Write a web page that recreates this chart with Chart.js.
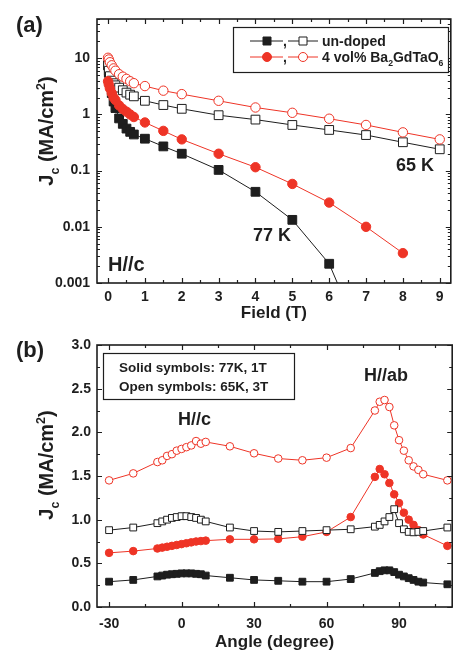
<!DOCTYPE html>
<html>
<head>
<meta charset="utf-8">
<script src="https://cdn.jsdelivr.net/npm/chart.js@4.4.1/dist/chart.umd.min.js"></script>
<style>
  html, body { margin: 0; padding: 0; background: #fff; }
  #wrap { position: relative; width: 458px; height: 658px; }
  #chartA { position: absolute; left: 0; top: 0; }
  #chartB { position: absolute; left: 0; top: 324px; }
</style>
</head>
<body>
<div id="wrap">
  <canvas id="chartA" width="458" height="324"></canvas>
  <canvas id="chartB" width="458" height="334"></canvas>
</div>
<script>
// ---- panel (a): Jc vs field ----
const field = [0, 0.02, 0.05, 0.1, 0.15, 0.2, 0.3, 0.4, 0.5, 0.6, 0.7, 1, 1.5, 2, 3, 4, 5, 6, 7, 8, 9];
const jcUndoped77 = [7.5, 5.5, 3.8, 2.4, 1.7, 1.3, 0.85, 0.68, 0.56, 0.49, 0.44, 0.37, 0.27, 0.20, 0.103, 0.042, 0.0133, 0.0022, null, null, null];
const jcUndoped65 = [7.5, 6.0, 4.8, 4.0, 3.6, 3.3, 3.0, 2.7, 2.45, 2.25, 2.1, 1.75, 1.47, 1.26, 0.97, 0.81, 0.65, 0.53, 0.43, 0.32, 0.24];
const jcDoped77 = [3.9, 3.4, 2.9, 2.4, 2.0, 1.8, 1.45, 1.25, 1.12, 1.0, 0.9, 0.72, 0.51, 0.36, 0.20, 0.115, 0.058, 0.027, 0.010, 0.0034, null];
const jcDoped65 = [10.2, 9.5, 8.5, 7.5, 6.6, 6.0, 5.2, 4.7, 4.3, 3.9, 3.6, 3.2, 2.65, 2.3, 1.75, 1.33, 1.07, 0.84, 0.65, 0.48, 0.36];
// line of the un-doped 77 K curve leaving the bottom of the plot
const tailField = [6, 6.3];
const tailJc = [0.0022, 0.00076];

const fieldTicks = [0, 1, 2, 3, 4, 5, 6, 7, 8, 9];
const fieldMinor = [0.5, 1.5, 2.5, 3.5, 4.5, 5.5, 6.5, 7.5, 8.5];
const jcTicksA = [0.001, 0.01, 0.1, 1, 10];

// ---- panel (b): Jc vs angle ----
const angle = [-30, -20, -10, -8, -6, -4, -2, 0, 2, 4, 6, 8, 10, 20, 30, 40, 50, 60, 70, 80, 82, 84, 86, 88, 90, 92, 94, 96, 98, 100, 110];
const angDoped65 = [1.45, 1.53, 1.66, 1.68, 1.73, 1.75, 1.79, 1.81, 1.83, 1.85, 1.90, 1.87, 1.89, 1.84, 1.76, 1.70, 1.68, 1.71, 1.82, 2.25, 2.35, 2.37, 2.29, 2.08, 1.91, 1.79, 1.68, 1.61, 1.57, 1.52, 1.45];
const angUndoped65 = [0.88, 0.91, 0.96, 0.98, 1.00, 1.02, 1.03, 1.04, 1.04, 1.03, 1.02, 1.00, 0.98, 0.91, 0.87, 0.86, 0.87, 0.88, 0.89, 0.92, 0.94, 0.98, 1.03, 1.12, 0.96, 0.89, 0.86, 0.855, 0.86, 0.87, 0.91];
const angDoped77 = [0.62, 0.64, 0.67, 0.68, 0.69, 0.70, 0.71, 0.72, 0.73, 0.74, 0.75, 0.755, 0.76, 0.775, 0.775, 0.78, 0.805, 0.86, 1.03, 1.49, 1.58, 1.52, 1.42, 1.29, 1.19, 1.08, 1.00, 0.94, 0.88, 0.83, 0.70];
const angUndoped77 = [0.29, 0.31, 0.35, 0.36, 0.37, 0.375, 0.38, 0.385, 0.385, 0.385, 0.38, 0.375, 0.36, 0.335, 0.31, 0.30, 0.29, 0.29, 0.32, 0.39, 0.41, 0.42, 0.42, 0.40, 0.37, 0.35, 0.33, 0.31, 0.29, 0.28, 0.26];

const angleTicks = [-30, 0, 30, 60, 90];
const angleMinor = [-15, 15, 45, 75, 105];
const jcTicksB = [0, 0.5, 1.0, 1.5, 2.0, 2.5, 3.0];
const jcMinorB = [0.25, 0.75, 1.25, 1.75, 2.25, 2.75];

const RED = '#ee3426';
const INK = '#1e1e1e';
const FONT = "'Liberation Sans', Arial, sans-serif";

function pairs(xs, ys) {
  return xs.map((x, i) => ({ x: x, y: ys[i] })).filter(p => p.y !== null);
}

function series(data, color, solid, style, r) {
  return {
    data: data,
    borderColor: color,
    backgroundColor: solid ? color : '#fff',
    borderWidth: 1,
    pointStyle: style,
    pointRadius: r,
    pointBorderWidth: 1,
    pointBackgroundColor: solid ? color : '#fff',
    pointBorderColor: color,
    tension: 0
  };
}

// draw text with sub/superscripts; parts = [[text, 0|-1|1], ...]
function rich(ctx, parts, x, y, size, align) {
  const fontOf = k => 'bold ' + (k ? size * 0.62 : size) + 'px ' + FONT;
  let w = 0;
  parts.forEach(p => { ctx.font = fontOf(p[1]); w += ctx.measureText(p[0]).width; });
  let cx = align === 'center' ? x - w / 2 : x;
  ctx.textBaseline = 'alphabetic';
  ctx.textAlign = 'left';
  parts.forEach(p => {
    ctx.font = fontOf(p[1]);
    const dy = p[1] === -1 ? size * 0.28 : (p[1] === 1 ? -size * 0.42 : 0);
    ctx.fillText(p[0], cx, y + dy);
    cx += ctx.measureText(p[0]).width;
  });
}

// closed frame with inward ticks on all four sides
function frameTicks(minorX, minorY) {
  return {
    id: 'frameTicks',
    afterDatasetsDraw(chart) {
      const { ctx, chartArea: a, scales } = chart;
      const x = scales.x, y = scales.y;
      ctx.save();
      ctx.strokeStyle = INK;
      ctx.lineWidth = 1.2;
      const vt = (vals, len) => vals.forEach(v => {
        const px = Math.round(x.getPixelForValue(v)) + 0.5;
        ctx.beginPath();
        ctx.moveTo(px, a.bottom); ctx.lineTo(px, a.bottom - len);
        ctx.moveTo(px, a.top); ctx.lineTo(px, a.top + len);
        ctx.stroke();
      });
      const ht = (vals, len) => vals.forEach(v => {
        const py = Math.round(y.getPixelForValue(v)) + 0.5;
        ctx.beginPath();
        ctx.moveTo(a.left, py); ctx.lineTo(a.left + len, py);
        ctx.moveTo(a.right, py); ctx.lineTo(a.right - len, py);
        ctx.stroke();
      });
      vt(x.ticks.map(t => t.value), 5);
      vt(minorX, 3);
      ht(y.ticks.map(t => t.value), 5);
      ht(minorY, 3);
      ctx.lineWidth = 1.6;
      ctx.strokeRect(a.left, a.top, a.right - a.left, a.bottom - a.top);
      ctx.restore();
    }
  };
}

// log minor ticks 2..9 per decade
const logMinor = [];
jcTicksA.forEach(d => { for (let k = 2; k <= 9; k++) { if (d * k <= 50) logMinor.push(d * k); } });

const tickFont = { family: FONT, size: 14, weight: 'bold' };

// ---------- chart (a) ----------
const notesA = {
  id: 'notesA',
  afterDraw(chart) {
    const ctx = chart.ctx;
    ctx.save();
    ctx.fillStyle = INK;
    // panel label
    ctx.font = 'bold 22px ' + FONT;
    ctx.textAlign = 'left'; ctx.textBaseline = 'alphabetic';
    ctx.fillText('(a)', 16, 32);
    // y title
    ctx.save();
    ctx.translate(53, 131);
    ctx.rotate(-Math.PI / 2);
    rich(ctx, [['J', 0], ['c', -1], [' (MA/cm', 0], ['2', 1], [')', 0]], 0, 0, 20, 'center');
    ctx.restore();
    // annotations
    ctx.font = 'bold 20px ' + FONT;
    ctx.fillText('H//c', 108, 271);
    ctx.font = 'bold 18px ' + FONT;
    ctx.fillText('77 K', 253, 241);
    ctx.fillText('65 K', 396, 171);
    // legend box
    ctx.fillStyle = '#fff';
    ctx.fillRect(233, 27, 215, 45);
    ctx.strokeStyle = INK; ctx.lineWidth = 1.2;
    ctx.strokeRect(233.5, 27.5, 215, 45);
    const rows = [
      { y: 41, color: INK, style: 'sq' },
      { y: 57, color: RED, style: 'ci' }
    ];
    rows.forEach(r => {
      ctx.strokeStyle = r.color; ctx.lineWidth = 1;
      ctx.beginPath();
      ctx.moveTo(250, r.y); ctx.lineTo(283, r.y);
      ctx.moveTo(288, r.y); ctx.lineTo(318, r.y);
      ctx.stroke();
      [[267, true], [303, false]].forEach(m => {
        ctx.fillStyle = m[1] ? r.color : '#fff';
        ctx.beginPath();
        if (r.style === 'sq') ctx.rect(m[0] - 4, r.y - 4, 8, 8);
        else ctx.arc(m[0], r.y, 4.5, 0, Math.PI * 2);
        ctx.fill(); ctx.stroke();
      });
      ctx.fillStyle = INK;
      ctx.font = 'bold 14px ' + FONT;
      ctx.fillText(',', 283, r.y + 5);
    });
    ctx.fillStyle = INK;
    ctx.font = 'bold 14px ' + FONT;
    ctx.fillText('un-doped', 322, 46);
    rich(ctx, [['4 vol% Ba', 0], ['2', -1], ['GdTaO', 0], ['6', -1]], 322, 62, 14, 'left');
    ctx.restore();
  }
};

new Chart(document.getElementById('chartA'), {
  type: 'line',
  data: {
    datasets: [
      series(pairs(field, jcDoped65), RED, false, 'circle', 4.7),
      series(pairs(field, jcDoped77), RED, true, 'circle', 4.7),
      series(pairs(field, jcUndoped65), INK, false, 'rect', 6.2),
      series(pairs(field, jcUndoped77), INK, true, 'rect', 6.2),
      series(pairs(tailField, tailJc), INK, true, 'rect', 0)
    ]
  },
  options: {
    responsive: false,
    animation: false,
    layout: { padding: { left: 0, right: 4, top: 19, bottom: 0 } },
    plugins: { legend: { display: false }, tooltip: { enabled: false } },
    scales: {
      x: {
        type: 'linear', min: -0.3, max: 9.3,
        afterBuildTicks: s => { s.ticks = fieldTicks.map(v => ({ value: v })); },
        afterFit: s => { s.height = 41; },
        grid: { display: false, drawTicks: false },
        border: { display: false },
        ticks: { font: tickFont, color: INK, padding: 6, maxRotation: 0, autoSkip: false },
        title: { display: true, text: 'Field (T)', color: INK, padding: 0,
                 font: { family: FONT, size: 17, weight: 'bold' } }
      },
      y: {
        type: 'logarithmic', min: 0.001, max: 50,
        afterBuildTicks: s => { s.ticks = jcTicksA.map(v => ({ value: v })); },
        afterFit: s => { s.width = 97; },
        grid: { display: false, drawTicks: false },
        border: { display: false },
        ticks: { font: tickFont, color: INK, padding: 7, autoSkip: false, callback: v => String(v) }
      }
    }
  },
  plugins: [frameTicks(fieldMinor, logMinor), notesA]
});

// ---------- chart (b) ----------
const notesB = {
  id: 'notesB',
  afterDraw(chart) {
    const ctx = chart.ctx;
    const off = 324;
    ctx.save();
    ctx.fillStyle = INK;
    ctx.font = 'bold 22px ' + FONT;
    ctx.textAlign = 'left'; ctx.textBaseline = 'alphabetic';
    ctx.fillText('(b)', 16, 357 - off);
    ctx.save();
    ctx.translate(53, 465 - off);
    ctx.rotate(-Math.PI / 2);
    rich(ctx, [['J', 0], ['c', -1], [' (MA/cm', 0], ['2', 1], [')', 0]], 0, 0, 20, 'center');
    ctx.restore();
    ctx.font = 'bold 18px ' + FONT;
    ctx.fillText('H//c', 178, 425 - off);
    ctx.fillText('H//ab', 364, 381 - off);
    // legend box
    ctx.fillStyle = '#fff';
    ctx.fillRect(103, 353 - off, 191, 46);
    ctx.strokeStyle = INK; ctx.lineWidth = 1.2;
    ctx.strokeRect(103.5, 353.5 - off, 191, 46);
    ctx.fillStyle = INK;
    ctx.font = 'bold 13.5px ' + FONT;
    ctx.fillText('Solid symbols: 77K, 1T', 119, 372 - off);
    ctx.fillText('Open symbols: 65K, 3T', 119, 391 - off);
    ctx.restore();
  }
};

new Chart(document.getElementById('chartB'), {
  type: 'line',
  data: {
    datasets: [
      series(pairs(angle, angUndoped65), INK, false, 'rect', 4.8),
      series(pairs(angle, angDoped65), RED, false, 'circle', 3.8),
      series(pairs(angle, angDoped77), RED, true, 'circle', 3.8),
      series(pairs(angle, angUndoped77), INK, true, 'rect', 4.8)
    ]
  },
  options: {
    responsive: false,
    animation: false,
    layout: { padding: { left: 0, right: 4, top: 21, bottom: 5 } },
    plugins: { legend: { display: false }, tooltip: { enabled: false } },
    scales: {
      x: {
        type: 'linear', min: -35, max: 112,
        afterBuildTicks: s => { s.ticks = angleTicks.map(v => ({ value: v })); },
        afterFit: s => { s.height = 46; },
        grid: { display: false, drawTicks: false },
        border: { display: false },
        ticks: { font: tickFont, color: INK, padding: 9, maxRotation: 0, autoSkip: false },
        title: { display: true, text: 'Angle (degree)', color: INK, padding: 0,
                 font: { family: FONT, size: 17, weight: 'bold' } }
      },
      y: {
        type: 'linear', min: 0, max: 3,
        afterBuildTicks: s => { s.ticks = jcTicksB.map(v => ({ value: v })); },
        afterFit: s => { s.width = 97; },
        grid: { display: false, drawTicks: false },
        border: { display: false },
        ticks: { font: tickFont, color: INK, padding: 6, autoSkip: false, callback: v => v.toFixed(1) }
      }
    }
  },
  plugins: [frameTicks(angleMinor, jcMinorB), notesB]
});
</script>
</body>
</html>
